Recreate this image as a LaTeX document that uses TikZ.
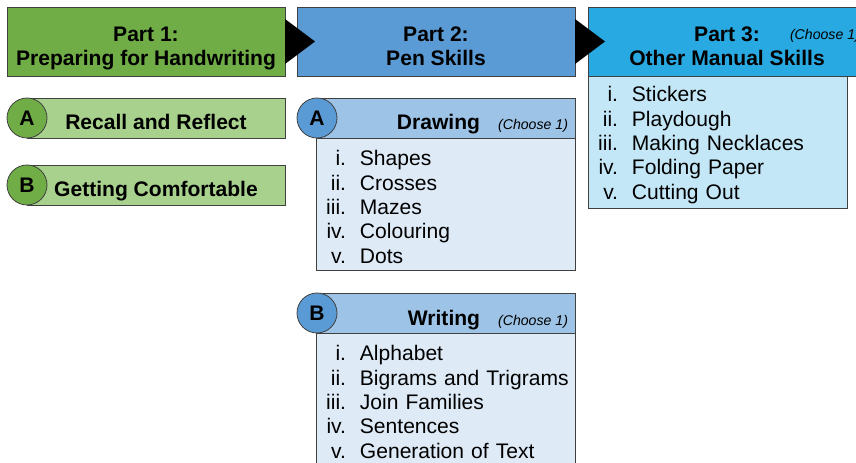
\documentclass[tikz,border=0pt]{standalone}
\usepackage{fontspec}
\setmainfont{Liberation Sans}
\usepackage{tikz}
\usetikzlibrary{positioning}

\definecolor{partgreen}{HTML}{70AD47}
\definecolor{lightgreen}{HTML}{A9D18E}
\definecolor{partblue}{HTML}{5B9BD5}
\definecolor{bandblue}{HTML}{9DC3E6}
\definecolor{listblue}{HTML}{DEEBF7}
\definecolor{partcyan}{HTML}{29A9E1}
\definecolor{listcyan}{HTML}{C4E7F7}

\newcommand{\lstitem}[2]{\mbox{\makebox[15.8pt][r]{#1}\hspace{10.4pt}#2}}
\newcommand{\firstrow}{\rule{0pt}{16pt}}
\newcommand{\choosenote}{{\mdseries\itshape\fontsize{10.6}{12}\selectfont (Choose 1)}}

\tikzset{
  every node/.style={font=\fontsize{15.8}{18}\selectfont, outer sep=0pt},
  parthead/.style={draw=black!75, line width=0.6pt, minimum width=208.5pt, minimum height=51.75pt, anchor=north west, inner sep=0pt},
  parttitle/.style={font=\bfseries\fontsize{15.8}{18}\selectfont, align=center, anchor=north, inner sep=0pt},
  band/.style={draw=black!75, line width=0.6pt, minimum width=193.5pt, minimum height=30pt, anchor=west, inner sep=0pt},
  badge/.style={circle, draw=black!75, line width=0.6pt, minimum size=30pt, inner sep=0pt, font=\bfseries\fontsize{15.8}{18}\selectfont},
  bandtext/.style={font=\bfseries\fontsize{15.8}{18}\selectfont, inner sep=0pt},
  itemlist/.style={draw=black!75, line width=0.6pt, anchor=north west, text width=180.75pt, inner xsep=6.75pt, inner ysep=0pt, align=left, font=\fontsize{15.8}{18.3}\selectfont},
  chevron/.style={fill=black},
}

\begin{document}
\begin{tikzpicture}[x=0.75pt, y=-0.75pt]
  \useasboundingbox (0,0) rectangle (856,463);
  \clip (0,0) rectangle (856,463);

  % part 1
  \node[parthead, fill=partgreen] (p1) at (7,7) {};
  \node[parttitle] (p1title) at ([yshift=-15pt]p1.north) {Part 1:\\Preparing for Handwriting};

  \node[band, fill=lightgreen] (recall) at (27,118) {};
  \node[bandtext, anchor=base] (recalltext) at ([yshift=6pt]recall.south) {Recall and Reflect};
  \node[badge, fill=partgreen] (p1a) at (recall.west) {A};

  \node[band, fill=lightgreen] (comfort) at (27,185) {};
  \node[bandtext, anchor=base] (comforttext) at ([yshift=6pt]comfort.south) {Getting Comfortable};
  \node[badge, fill=partgreen] (p1b) at (comfort.west) {B};

  % part 2
  \node[parthead, fill=partblue] (p2) at (297,7) {};
  \node[parttitle] (p2title) at ([yshift=-15pt]p2.north) {Part 2:\\Pen Skills};

  \node[itemlist, fill=listblue, minimum height=99pt] (drawlist) at (316,138) {%
    \firstrow\lstitem{i.}{Shapes}\\
    \lstitem{ii.}{Crosses}\\
    \lstitem{iii.}{Mazes}\\
    \lstitem{iv.}{Colouring}\\
    \lstitem{v.}{Dots}};
  \node[band, fill=bandblue] (drawband) at (317,118) {};
  \node[bandtext, anchor=base east] (drawtext) at ([xshift=-5.25pt,yshift=6pt]drawband.south east) {Drawing\hspace{13.5pt}\choosenote};
  \node[badge, fill=partblue] (p2a) at (drawband.west) {A};

  \node[itemlist, fill=listblue, minimum height=103.5pt] (writelist) at (316,333) {%
    \lstitem{i.}{Alphabet}\\
    \lstitem{ii.}{Bigrams and Trigrams}\\
    \lstitem{iii.}{Join Families}\\
    \lstitem{iv.}{Sentences}\\
    \lstitem{v.}{Generation of Text}};
  \node[band, fill=bandblue] (writeband) at (317,313) {};
  \node[bandtext, anchor=base east] (writetext) at ([xshift=-5.25pt,yshift=6pt]writeband.south east) {Writing\hspace{13.5pt}\choosenote};
  \node[badge, fill=partblue] (p2b) at (writeband.west) {B};

  % part 3
  \node[itemlist, fill=listcyan, minimum height=99pt] (p3list) at (588,76) {%
    \firstrow\lstitem{i.}{Stickers}\\
    \lstitem{ii.}{Playdough}\\
    \lstitem{iii.}{Making Necklaces}\\
    \lstitem{iv.}{Folding Paper}\\
    \lstitem{v.}{Cutting Out}};
  \node[parthead, fill=partcyan] (p3) at (588,7) {};
  \node[parttitle] (p3title) at ([yshift=-15pt]p3.north) {Part 3:\\Other Manual Skills};
  \node[anchor=base west, inner sep=0pt] (p3choose) at (790,40) {\choosenote};

  % arrows between parts
  \fill[chevron] (p1.east) ++(0,-22.5) -- ++(30,22.5) -- ++(-30,22.5) -- cycle;
  \fill[chevron] (p2.east) ++(0,-22.5) -- ++(30,22.5) -- ++(-30,22.5) -- cycle;
\end{tikzpicture}
\end{document}
